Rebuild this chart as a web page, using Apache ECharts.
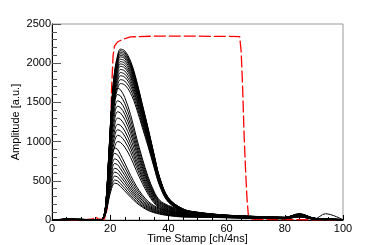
<!DOCTYPE html>
<html>
<head>
<meta charset="utf-8">
<script src="https://cdn.jsdelivr.net/npm/echarts@6/dist/echarts.min.js"></script>
<style>html,body{margin:0;padding:0;background:#fff}#c{width:381px;height:245px}</style>
</head>
<body>
<div id="c"></div>
<script>
// Sample times (ch/4ns) shared by every pulse
const timeStamps = [0, 5, 10, 16, 17.5, 18.5, 19.5, 20.5, 21.5, 22.5, 23.5, 25, 27, 29, 31, 33, 35, 37, 40, 45, 50, 60, 70, 80, 85, 90, 94, 100];

// Pulse amplitudes [a.u.]
const pulses = [
  [0,8,5,0, 22,218,828,1482,1897,2093,2180,2158,2027,1788,1482,1177,850,545,283,142, 100,62,46,35,80,24,14,6],
  [0,6,9,0, 22,216,821,1469,1879,2074,2160,2138,2009,1771,1469,1166,842,540,281,140, 98,60,44,33,76,22,12,5],
  [0,10,4,0, 21,214,813,1455,1862,2054,2140,2119,1990,1755,1455,1156,835,535,278,139, 97,61,45,34,78,23,13,6],
  [0,7,6,0, 21,212,806,1442,1844,2035,2120,2099,1972,1738,1442,1145,827,530,276,138, 96,59,43,32,74,21,12,5],
  [0,9,7,0, 21,210,798,1428,1827,2016,2100,2079,1953,1722,1428,1134,819,525,273,137, 95,60,44,33,72,22,14,6],
  [0,5,8,0, 21,208,790,1414,1810,1997,2080,2059,1934,1706,1414,1123,811,520,270,135, 94,58,42,31,70,20,11,4],
  [0,8,6,0, 21,205,779,1394,1784,1968,2050,2030,1907,1681,1394,1107,800,513,267,133, 93,60,44,33,77,23,13,5],
  [0,6,5,0, 20,202,768,1374,1757,1939,2020,2000,1879,1656,1374,1091,788,505,263,131, 92,57,42,31,71,21,12,6],
  [0,9,8,0, 20,199,756,1353,1731,1910,1990,1970,1851,1632,1353,1075,776,498,259,129, 91,58,43,32,73,22,13,5],
  [0,7,4,0, 20,196,745,1333,1705,1882,1960,1940,1823,1607,1333,1058,764,490,255,127, 90,56,41,30,69,20,11,4],
  [0,8,7,0, 19,192,730,1306,1670,1843,1920,1901,1786,1574,1306,1037,749,480,250,125, 89,57,42,31,75,22,14,6],
  [0,6,6,0, 19,188,714,1278,1636,1805,1880,1861,1748,1542,1278,1015,733,470,244,122, 88,55,40,30,68,19,11,5],
  [0,10,5,0, 18,184,699,1251,1601,1766,1840,1822,1711,1509,1251,994,718,460,239,120, 87,56,41,30,72,21,12,5],
  [0,7,8,0, 18,179,680,1217,1557,1718,1790,1772,1665,1468,1217,967,698,448,233,116, 86,54,39,29,66,19,11,4],
  [0,8,6,0, 17,174,661,1183,1514,1670,1740,1723,1618,1427,1183,940,679,435,226,113, 85,53,39,28,70,20,11,5],
  [0,6,7,0, 17,202,756,1277,1562,1680,1663,1562,1344,1058,790,554,370,252,185,118, 80,50,37,27,66,19,12,5],
  [0,8,5,0, 16,192,720,1216,1488,1600,1584,1488,1280,1008,752,528,352,240,176,112, 78,49,36,27,64,18,11,4],
  [0,7,8,0, 15,182,684,1155,1414,1520,1505,1414,1216,958,714,502,334,228,167,106, 76,48,35,26,62,18,11,5],
  [0,9,6,0, 15,174,653,1102,1349,1450,1436,1349,1160,914,682,479,319,218,160,102, 74,47,34,25,60,17,10,4],
  [0,6,5,0, 14,166,621,1049,1283,1380,1366,1283,1104,869,649,455,304,207,152,97, 72,46,34,25,58,17,10,5],
  [0,8,7,0, 13,156,585,988,1209,1300,1287,1209,1040,819,611,429,286,195,143,91, 70,45,33,24,56,16,9,4],
  [0,7,6,0, 12,146,549,927,1135,1220,1208,1135,976,769,573,403,268,183,134,85, 67,44,32,24,54,16,9,4],
  [0,9,4,0, 12,138,518,874,1070,1150,1139,1070,920,725,541,380,253,173,127,81, 65,43,31,23,52,15,8,3],
  [0,5,7,0, 11,130,486,821,1004,1080,1069,1004,864,680,508,356,238,162,119,76, 62,42,30,22,51,15,8,4],
  [0,8,6,0, 10,120,450,760,930,1000,990,930,800,630,470,330,220,150,110,70, 60,41,30,22,50,14,8,3],
  [0,7,5,0, 18,166,506,791,920,902,837,727,570,432,322,239,184,147,110,74, 52,38,28,20,50,14,8,4],
  [0,6,8,0, 17,153,468,731,850,833,774,672,527,400,298,221,170,136,102,68, 50,37,27,20,48,13,8,4],
  [0,9,6,0, 16,140,429,671,780,764,710,616,484,367,273,203,156,125,94,62, 48,36,26,19,47,13,7,3],
  [0,7,7,0, 14,130,396,619,720,706,655,569,446,338,252,187,144,115,86,58, 46,35,26,19,46,12,7,4],
  [0,8,5,0, 13,119,363,568,660,647,601,521,409,310,231,172,132,106,79,53, 44,33,25,18,44,12,7,3],
  [0,6,6,0, 12,110,336,525,610,598,555,482,378,287,214,159,122,98,73,49, 42,32,24,18,43,11,6,3],
  [0,9,8,0, 11,101,308,482,560,549,510,442,347,263,196,146,112,90,67,45, 40,31,23,17,42,11,6,3],
  [0,7,5,0, 10,92,281,439,510,500,464,403,316,240,179,133,102,82,61,41, 38,30,22,17,40,11,80,3],
  [0,8,6,0, 9,85,259,404,470,461,428,371,291,221,165,122,94,75,56,38, 36,29,21,16,39,10,6,3]
];

// Red dashed envelope
const envelopeX = [0, 5, 10, 14, 15, 16, 18, 19, 19.5, 20, 20.5, 21, 21.5, 22.5, 24, 27, 35, 50, 64.5, 65, 65.5, 66, 66.5, 67, 67.5, 68.5, 80, 100];
const envelopeY = [0, 5, 0, 15, 40, 10, 10, 150, 500, 1000, 1700, 2100, 2220, 2270, 2300, 2335, 2345, 2345, 2340, 2150, 1700, 1100, 650, 280, 50, 10, 5, 0];

const xTicks = {min: 0, max: 100, step: 20};
const yTicks = {min: 0, max: 2500, step: 500};

const font = "'Liberation Sans', Arial, sans-serif";
const series = [];
series.push({
  type: 'line', data: envelopeX.map((x, i) => [x, envelopeY[i]]),
  symbol: 'none', silent: true, z: 1,
  lineStyle: {color: '#ff0000', width: 1.3, type: [12, 3]}
});
pulses.forEach(p => series.push({
  type: 'line', data: timeStamps.map((x, i) => [x, p[i]]),
  symbol: 'none', silent: true, smooth: 0.35, z: 2,
  lineStyle: {color: '#000', width: 1}
}));

const chart = echarts.init(document.getElementById('c'));
chart.setOption({
  animation: false,
  backgroundColor: '#fff',
  grid: {left: 52, right: 38, top: 24, bottom: 25, containLabel: false, outerBoundsMode: 'none',
         show: true, borderColor: '#999', borderWidth: 1, backgroundColor: 'transparent'},
  xAxis: {
    type: 'value', min: xTicks.min, max: xTicks.max, interval: xTicks.step,
    name: 'Time Stamp [ch/4ns]', nameLocation: 'middle', nameGap: 13, nameMoveOverlap: false,
    nameTextStyle: {fontFamily: font, fontSize: 11, color: '#000'},
    axisLine: {lineStyle: {color: '#000', width: 1}},
    axisTick: {inside: true, length: 5, lineStyle: {color: '#000'}},
    minorTick: {show: true, splitNumber: 4, length: 3, lineStyle: {color: '#000'}},
    axisLabel: {fontFamily: font, fontSize: 11, color: '#000', margin: 3, formatter: v => String(v)},
    splitLine: {show: false}
  },
  yAxis: {
    type: 'value', min: yTicks.min, max: yTicks.max, interval: yTicks.step,
    name: 'Amplitude [a.u.]', nameLocation: 'middle', nameGap: 31, nameMoveOverlap: false,
    nameTextStyle: {fontFamily: font, fontSize: 11, color: '#000'},
    axisLine: {show: true, lineStyle: {color: '#000', width: 1}},
    axisTick: {inside: true, length: 9, lineStyle: {color: '#555'}},
    minorTick: {show: true, splitNumber: 5, length: 5, lineStyle: {color: '#555'}},
    axisLabel: {fontFamily: font, fontSize: 11, color: '#000', margin: 1, formatter: v => String(v)},
    splitLine: {show: false}
  },
  series: series
});
</script>
</body>
</html>
